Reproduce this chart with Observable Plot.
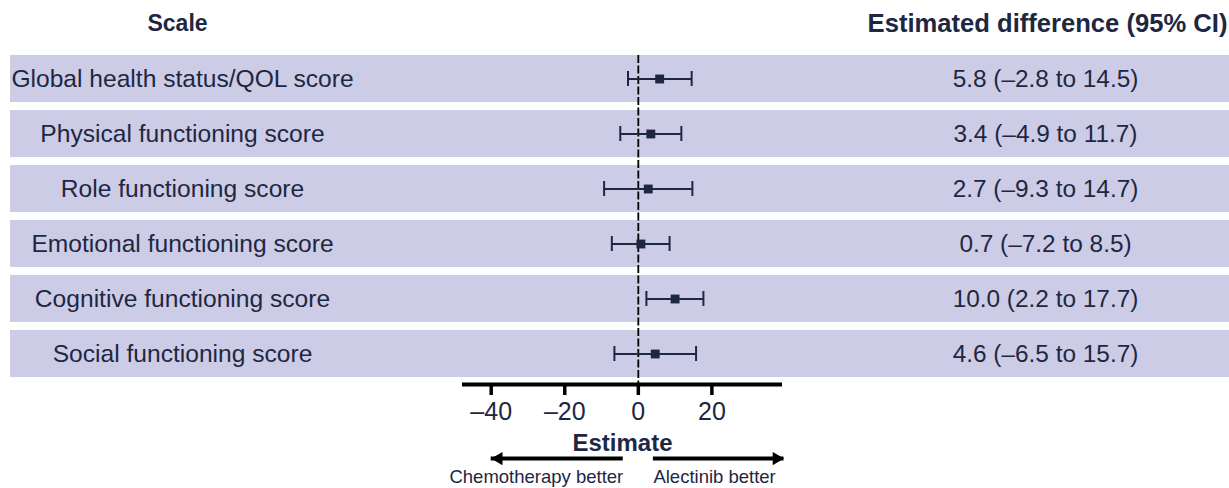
<!DOCTYPE html>
<html><head><meta charset="utf-8">
<script src="https://cdn.jsdelivr.net/npm/d3@7"></script>
<script src="https://cdn.jsdelivr.net/npm/@observablehq/plot@0.6"></script>
<style>
html,body{margin:0;padding:0;background:#fff;overflow:hidden;}
svg{display:block;}
</style>
</head><body><div id="chart"></div>
<script>
// ---- data ----
const scales = [
  "Global health status/QOL score",
  "Physical functioning score",
  "Role functioning score",
  "Emotional functioning score",
  "Cognitive functioning score",
  "Social functioning score"
];
const estimates = [5.8, 3.4, 2.7, 0.7, 10.0, 4.6];
const lower = [-2.8, -4.9, -9.3, -7.2, 2.2, -6.5];
const upper = [14.5, 11.7, 14.7, 8.5, 17.7, 15.7];
const xTicks = [-40, -20, 0, 20];
const axisExtent = [-47.8, 39.2];
const favourLabels = ["Chemotherapy better", "Alectinib better"];
const arrowFrom = [-4.1, 4.1];
const arrowTo = [-40, 39.6];
const headers = ["Scale", "Estimated difference (95% CI)"];
const axisTitle = "Estimate";

// ---- build ----
const fmt = v => (v < 0 ? "\u2013" : "") + Math.abs(v).toFixed(1);
const tickFmt = v => (v < 0 ? "\u2013" + (-v) : String(v));
const rows = scales.map((s, i) => ({
  scale: s, est: estimates[i], lo: lower[i], hi: upper[i],
  ci: `${fmt(estimates[i])} (${fmt(lower[i])} to ${fmt(upper[i])})`
}));
const arrows = favourLabels.map((l, i) => ({label: l, from: arrowFrom[i], to: arrowTo[i]}));
const bottomRow = scales[scales.length - 1];

const NAVY = "#1e2742";
const BAND = "#cccce6";
const FONT = "Liberation Sans, Arial, sans-serif";

const chart = Plot.plot({
  width: 1229,
  height: 488,
  marginTop: 55,
  marginBottom: 105,
  marginLeft: 10,
  marginRight: 0,
  style: {fontFamily: FONT, background: "#fff", overflow: "visible"},
  x: {domain: axisExtent, range: [462, 782], axis: null},
  y: {domain: scales, range: [55, 378], paddingInner: 0.145, paddingOuter: 0, axis: null},
  marks: [
    // row bands
    Plot.cell(rows, {y: "scale", fill: BAND}),
    // zero reference line
    Plot.ruleX([0], {stroke: "black", strokeWidth: 1.8, strokeDasharray: "8,2.5"}),
    // CI lines and caps
    Plot.ruleY(rows, {y: "scale", x1: "lo", x2: "hi", stroke: NAVY, strokeWidth: 2}),
    Plot.tickX(rows, {y: "scale", x: "lo", stroke: NAVY, strokeWidth: 2, insetTop: 16, insetBottom: 16}),
    Plot.tickX(rows, {y: "scale", x: "hi", stroke: NAVY, strokeWidth: 2, insetTop: 16, insetBottom: 16}),
    Plot.dot(rows, {y: "scale", x: "est", symbol: "square", r: 5, fill: NAVY, stroke: null}),
    // row labels
    Plot.text(rows, {y: "scale", text: "scale", frameAnchor: "left", dx: 172, textAnchor: "middle", lineAnchor: "middle", fontSize: 24.6, fill: NAVY}),
    Plot.text(rows, {y: "scale", text: "ci", frameAnchor: "right", dx: -184, textAnchor: "middle", lineAnchor: "middle", fontSize: 24.4, fill: NAVY}),
    // headers
    Plot.text([headers[0]], {frameAnchor: "top-left", dx: 167, dy: -32, textAnchor: "middle", lineAnchor: "middle", fontSize: 23, fontWeight: "bold", fill: NAVY}),
    Plot.text([headers[1]], {frameAnchor: "top-right", dx: -182, dy: -32, textAnchor: "middle", lineAnchor: "middle", fontSize: 25.6, fontWeight: "bold", fill: NAVY}),
    // x axis line
    Plot.ruleY([{lo: axisExtent[0], hi: axisExtent[1]}], {y: () => bottomRow, x1: "lo", x2: "hi", dy: 30.6, stroke: "black", strokeWidth: 4}),
    Plot.axisX({ticks: xTicks, tickFormat: tickFmt, tickSize: 12, tickPadding: 7, fontSize: 25, color: NAVY, stroke: "black", strokeWidth: 3.5, label: null}),
    // axis title
    Plot.text([axisTitle], {frameAnchor: "bottom", dx: 2.5, dy: 60, textAnchor: "middle", lineAnchor: "middle", fontSize: 24, fontWeight: "bold", fill: NAVY}),
    // direction arrows
    Plot.ruleY(arrows, {y: () => bottomRow, x1: "from", x2: "to", dy: 104.6, stroke: "black", strokeWidth: 4}),
    Plot.dot(arrows.filter(d => d.to < 0), {x: "to", y: () => bottomRow, dy: 104.6, dx: 7.5, symbol: "triangle", rotate: -90, r: 4.9, fill: "black", stroke: null}),
    Plot.dot(arrows.filter(d => d.to > 0), {x: "to", y: () => bottomRow, dy: 104.6, dx: -7.5, symbol: "triangle", rotate: 90, r: 4.9, fill: "black", stroke: null}),
    Plot.text(arrows.filter(d => d.to < 0), {x: "from", text: "label", frameAnchor: "bottom", dy: 94, textAnchor: "end", lineAnchor: "middle", fontSize: 18.5, fill: NAVY}),
    Plot.text(arrows.filter(d => d.to > 0), {x: "from", text: "label", frameAnchor: "bottom", dy: 94, textAnchor: "start", lineAnchor: "middle", fontSize: 18.5, fill: NAVY})
  ]
});
document.getElementById("chart").appendChild(chart);
</script>
</body></html>
